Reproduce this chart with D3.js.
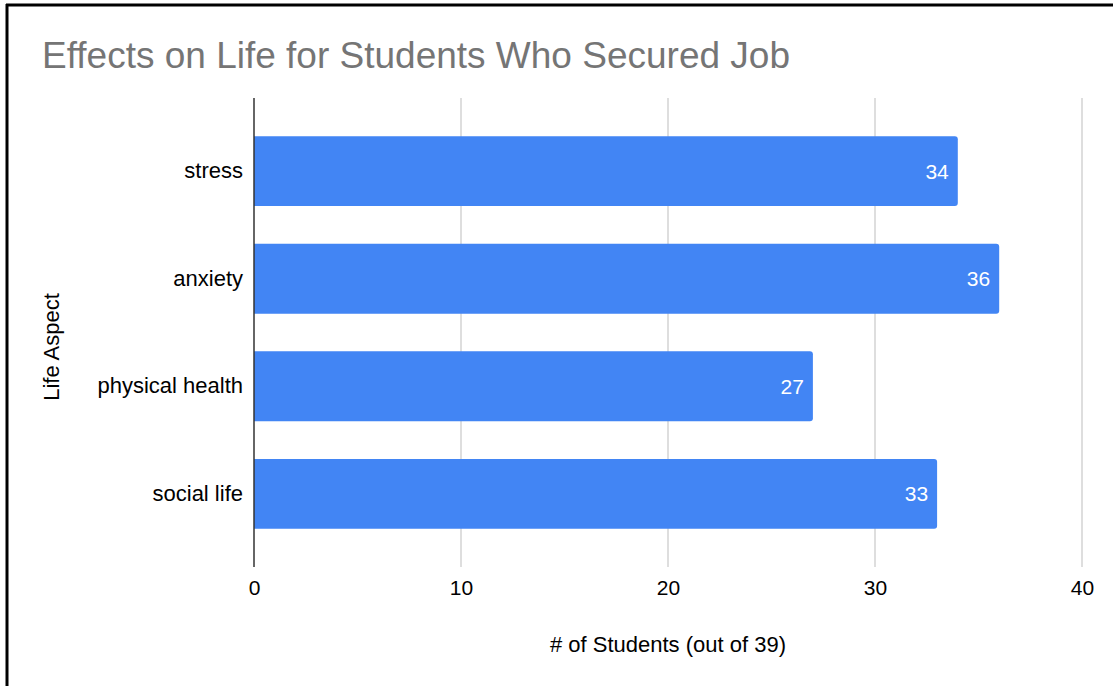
<!DOCTYPE html>
<html>
<head>
<meta charset="utf-8">
<script src="https://cdn.jsdelivr.net/npm/d3@7"></script>
<style>
  body { margin: 0; background: #fff; }
  text { font-family: Arial, "Liberation Sans", sans-serif; }
</style>
</head>
<body>
<script>
(function (){

    //chart data
    var categories = ["stress", "anxiety", "physical health", "social life"];
    var values = [34, 36, 27, 33];
    var tickValues = [0, 10, 20, 30, 40];

    var width = 1113,
        height = 686;

    var svg = d3.select("body")
        .append("svg")
        .attr("width", width)
        .attr("height", height);

    //frame lines (top and left edge of the screenshot)
    svg.append("line")
        .attr("x1", 6).attr("x2", width)
        .attr("y1", 5).attr("y2", 5)
        .attr("stroke", "#000").attr("stroke-width", 3);
    svg.append("line")
        .attr("x1", 7).attr("x2", 7)
        .attr("y1", 4).attr("y2", height)
        .attr("stroke", "#000").attr("stroke-width", 3);

    //plot area
    var left = 254, right = 1082, top = 98, bottom = 567;

    var xScale = d3.scaleLinear()
        .domain([0, 40])
        .range([left, right]);

    var yScale = d3.scaleBand()
        .domain(categories)
        .range([top, bottom])
        .paddingInner(0.35)
        .paddingOuter(0.355);

    //gridlines
    svg.selectAll(".grid")
        .data(tickValues.slice(1))
        .enter()
        .append("line")
        .attr("class", "grid")
        .attr("x1", function(d){ return xScale(d); })
        .attr("x2", function(d){ return xScale(d); })
        .attr("y1", top)
        .attr("y2", bottom)
        .attr("stroke", "#cccccc")
        .attr("stroke-width", 1.3);

    //bars with rounded right ends
    var r = 3;
    svg.selectAll(".bar")
        .data(values)
        .enter()
        .append("path")
        .attr("class", "bar")
        .attr("fill", "#4285f4")
        .attr("d", function(d, i){
            var x0 = xScale(0), x1 = xScale(d),
                y0 = yScale(categories[i]), h = yScale.bandwidth();
            return "M" + x0 + "," + y0 +
                "H" + (x1 - r) +
                "Q" + x1 + "," + y0 + " " + x1 + "," + (y0 + r) +
                "V" + (y0 + h - r) +
                "Q" + x1 + "," + (y0 + h) + " " + (x1 - r) + "," + (y0 + h) +
                "H" + x0 + "Z";
        });

    //value labels
    svg.selectAll(".valueLabel")
        .data(values)
        .enter()
        .append("text")
        .attr("class", "valueLabel")
        .attr("x", function(d){ return xScale(d) - 9; })
        .attr("y", function(d, i){ return yScale(categories[i]) + yScale.bandwidth() / 2; })
        .attr("dy", "0.36em")
        .attr("text-anchor", "end")
        .attr("fill", "#fff")
        .style("font-size", "21px")
        .text(function(d){ return d; });

    //zero axis line
    svg.append("line")
        .attr("x1", xScale(0)).attr("x2", xScale(0))
        .attr("y1", top).attr("y2", bottom)
        .attr("stroke", "#333").attr("stroke-width", 1.5);

    //x axis labels
    var xAxis = d3.axisBottom(xScale)
        .tickValues(tickValues)
        .tickSize(0)
        .tickPadding(13);

    var xg = svg.append("g")
        .attr("transform", "translate(0," + bottom + ")")
        .call(xAxis);
    xg.select(".domain").remove();
    xg.selectAll("text")
        .attr("fill", "#000")
        .style("font-size", "21px")
        .style("font-family", "Arial, 'Liberation Sans', sans-serif");

    //y axis labels
    var yAxis = d3.axisLeft(yScale)
        .tickSize(0)
        .tickPadding(11);

    var yg = svg.append("g")
        .attr("transform", "translate(" + left + ",0)")
        .call(yAxis);
    yg.select(".domain").remove();
    yg.selectAll("text")
        .attr("fill", "#000")
        .style("font-size", "22px")
        .style("font-family", "Arial, 'Liberation Sans', sans-serif");

    //title
    svg.append("text")
        .attr("x", 42)
        .attr("y", 68)
        .attr("fill", "#757575")
        .style("font-size", "37px")
        .text("Effects on Life for Students Who Secured Job");

    //axis titles
    svg.append("text")
        .attr("x", 668)
        .attr("y", 652)
        .attr("text-anchor", "middle")
        .attr("fill", "#000")
        .style("font-size", "22px")
        .text("# of Students (out of 39)");

    svg.append("text")
        .attr("transform", "translate(59,347) rotate(-90)")
        .attr("text-anchor", "middle")
        .attr("fill", "#000")
        .style("font-size", "22px")
        .text("Life Aspect");

})();
</script>
</body>
</html>
